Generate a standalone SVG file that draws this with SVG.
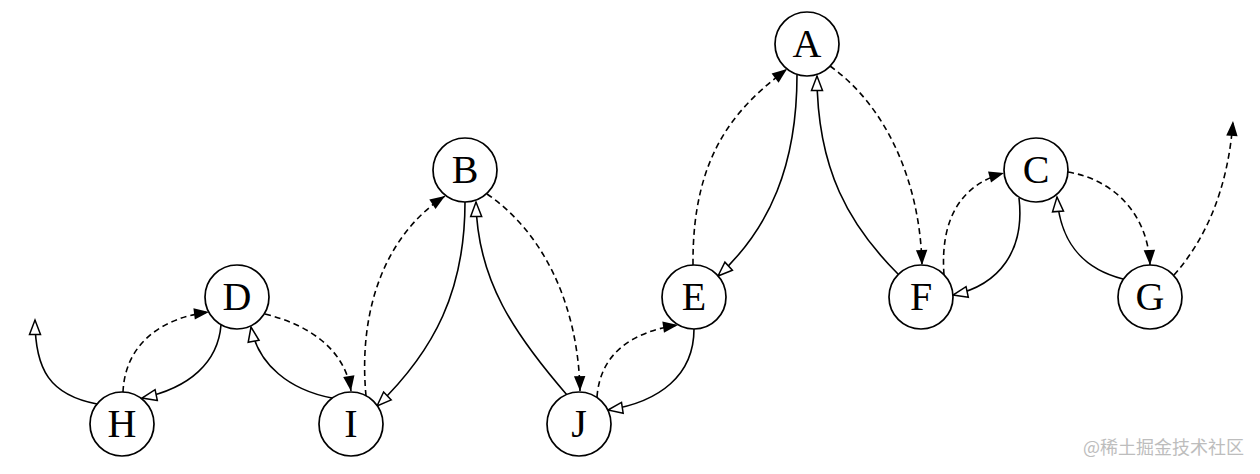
<svg xmlns="http://www.w3.org/2000/svg" width="1260" height="474" viewBox="0 0 1260 474">
<style>
.bg{fill:#fff}
.node circle{fill:#fff;stroke:#000;stroke-width:1.7}
.node text{font-family:"Liberation Serif","Times New Roman",serif;font-size:40px;text-anchor:middle;fill:#000}
.edge{fill:none;stroke:#000;stroke-width:1.6}
.child{marker-end:url(#hollow)}
.thread{stroke-dasharray:6,4;marker-end:url(#filled)}
.wm{font-family:"Noto Sans CJK SC","Noto Sans",sans-serif;font-size:18px;fill:#bdbdbd;text-anchor:end}
</style>
<defs>
<marker id="hollow" markerUnits="userSpaceOnUse" markerWidth="20" markerHeight="16" refX="16" refY="8" orient="auto" overflow="visible">
<path d="M1.5,2.5 L16,8 L1.5,13.5 z" fill="#fff" stroke="#000" stroke-width="1.5" stroke-dasharray="none"/>
</marker>
<marker id="filled" markerUnits="userSpaceOnUse" markerWidth="20" markerHeight="16" refX="16" refY="8" orient="auto" overflow="visible">
<path d="M1,2.3 L16,8 L1,13.7 z" fill="#000" stroke="none"/>
</marker>
</defs>
<rect class="bg" x="0" y="0" width="1260" height="474"/>
<g id="connectors">
<path class="edge child" d="M797,75 C797,165 770,228 718,276"/>
<path class="edge child" d="M898,274 C850,226 817,170 817,76"/>
<path class="edge child" d="M694,329 C694,375 660,402 608,410"/>
<path class="edge child" d="M465,202 C465,290 435,350 377,406"/>
<path class="edge child" d="M567,395 C515,335 477,280 476,202"/>
<path class="edge child" d="M221,325 C218,362 190,388 142,398"/>
<path class="edge child" d="M332,398 C290,390 258,365 251,327"/>
<path class="edge child" d="M97,404 C50,395 35,370 35,320"/>
<path class="edge child" d="M1019,198 C1025,250 1000,285 953,295"/>
<path class="edge child" d="M1123,279 C1080,268 1060,240 1057,197"/>
<path class="edge thread" d="M123,392 C125,345 160,318 209,312"/>
<path class="edge thread" d="M265,314 C310,325 345,350 351,391"/>
<path class="edge thread" d="M366,396 C358,310 385,235 445,196"/>
<path class="edge thread" d="M487,194 C540,230 578,300 580,391"/>
<path class="edge thread" d="M597,397 C600,355 630,332 678,325"/>
<path class="edge thread" d="M693,265 C692,150 740,105 787,69"/>
<path class="edge thread" d="M830,66 C885,105 920,180 922,265"/>
<path class="edge thread" d="M944,275 C940,220 960,185 1004,173"/>
<path class="edge thread" d="M1068,172 C1115,180 1148,215 1150,265"/>
<path class="edge thread" d="M1174,275 C1205,240 1228,190 1233,121"/>
</g>
<g id="A" class="node"><circle cx="807" cy="44" r="32"/><text x="807" y="56.5">A</text></g>
<g id="B" class="node"><circle cx="465" cy="170" r="32"/><text x="465" y="182.5">B</text></g>
<g id="C" class="node"><circle cx="1036" cy="170" r="32"/><text x="1036" y="182.5">C</text></g>
<g id="D" class="node"><circle cx="237" cy="297" r="32"/><text x="237" y="309.5">D</text></g>
<g id="E" class="node"><circle cx="694" cy="297" r="32"/><text x="694" y="309.5">E</text></g>
<g id="F" class="node"><circle cx="921" cy="297" r="32"/><text x="921" y="309.5">F</text></g>
<g id="G" class="node"><circle cx="1150" cy="297" r="32"/><text x="1150" y="309.5">G</text></g>
<g id="H" class="node"><circle cx="122" cy="424" r="32"/><text x="122" y="436.5">H</text></g>
<g id="I" class="node"><circle cx="351" cy="424" r="32"/><text x="351" y="436.5">I</text></g>
<g id="J" class="node"><circle cx="579" cy="424" r="32"/><text x="579" y="436.5">J</text></g>
<text class="wm" x="1244" y="454">@稀土掘金技术社区</text>
</svg>
